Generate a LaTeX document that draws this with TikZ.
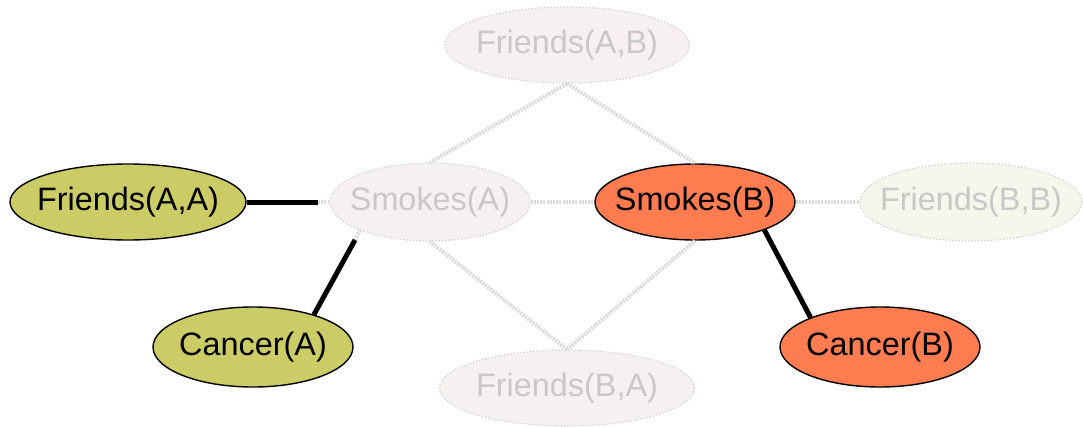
\documentclass[tikz,border=0pt]{standalone}
\usepackage{fontspec}
\setmainfont{Liberation Sans}
\usetikzlibrary{shapes.geometric}
\definecolor{olivefill}{RGB}{204,204,102}
\definecolor{orangefill}{RGB}{255,124,80}
\definecolor{ghostpink}{RGB}{247,240,240}
\definecolor{ghostyellow}{RGB}{246,246,236}
\definecolor{ghostedge}{RGB}{205,205,205}
\definecolor{ghosttext}{RGB}{200,200,200}
\definecolor{ghostline}{RGB}{218,218,218}
\tikzset{
  base/.style={ellipse, inner sep=0pt, font=\fontsize{16.2}{19}\selectfont},
  realnode/.style={base, draw=black, line width=0.7pt},
  olivenode/.style={realnode, fill=olivefill},
  orangenode/.style={realnode, fill=orangefill},
  ghostnode/.style={base, draw=ghostedge, densely dotted, line width=0.6pt, fill=ghostpink, text=ghosttext},
  ghostedgeline/.style={draw=ghostline, line width=2pt, dash pattern=on 1pt off 0.6pt},
  strongline/.style={draw=black, line width=2.5pt}
}
\begin{document}
\begin{tikzpicture}[x=0.5pt,y=-0.5pt]
\useasboundingbox (0,0) rectangle (1083,428);
% ghost nodes
\node[ghostnode, minimum width=122.5pt, minimum height=38pt] (fab) at (567,45) {\makebox[0pt]{Friends(A,B)}};
\node[ghostnode, minimum width=100pt, minimum height=39pt] (sa) at (430,202) {\makebox[0pt]{Smokes(A)}};
\node[ghostnode, fill=ghostyellow, minimum width=111pt, minimum height=39pt] (fbb) at (971,202) {\makebox[0pt]{Friends(B,B)}};
\node[ghostnode, minimum width=127.5pt, minimum height=38pt] (fba) at (567,388) {\makebox[0pt]{Friends(B,A)}};
% real nodes
\node[olivenode, minimum width=118pt, minimum height=38pt] (faa) at (128,202) {\makebox[0pt]{Friends(A,A)}};
\node[olivenode, minimum width=100pt, minimum height=40pt] (ca) at (253,347) {\makebox[0pt]{Cancer(A)}};
\node[orangenode, minimum width=100pt, minimum height=38pt] (sb) at (695,202) {\makebox[0pt]{Smokes(B)}};
\node[orangenode, minimum width=100pt, minimum height=40pt] (cb) at (880,347) {\makebox[0pt]{Cancer(B)}};
% cut points of the strong lines
\coordinate (cutfa) at (318,202);
\coordinate (cutca) at (355,240);
% ghost connectors
\draw[ghostedgeline] (fab.south) -- (sa.north);
\draw[ghostedgeline] (fab.south) -- (sb.north);
\draw[ghostedgeline] (fba.north) -- (sa.south);
\draw[ghostedgeline] (fba.north) -- (sb.south);
\draw[ghostedgeline] (sa) -- (sb);
\draw[ghostedgeline] (sb) -- (fbb);
\draw[ghostedgeline] (cutfa) -- (sa);
\draw[ghostedgeline] (cutca) -- (sa.202);
% strong connectors
\draw[strongline] (faa) -- (cutfa);
\draw[strongline] (ca.28) -- (cutca);
\draw[strongline] (sb.-22) -- (cb.157);
\end{tikzpicture}
\end{document}
